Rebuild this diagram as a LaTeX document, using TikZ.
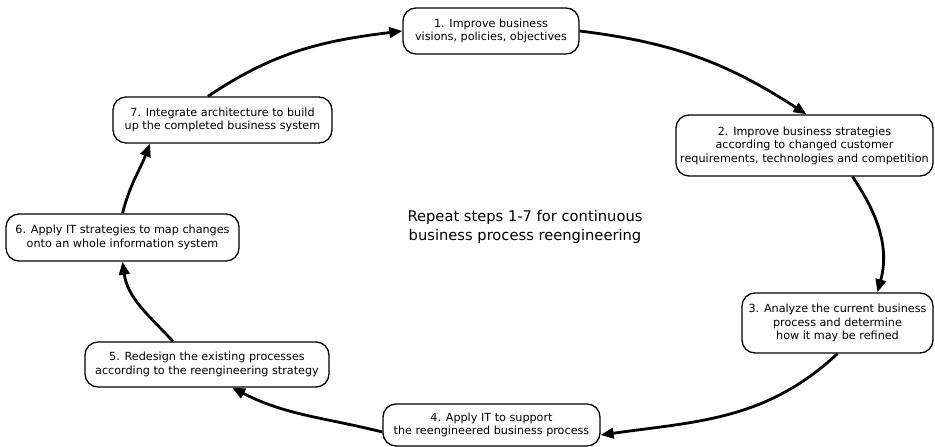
\documentclass[tikz,border=0pt]{standalone}
\usepackage{fontspec}
\setmainfont{DejaVu Sans}
\usetikzlibrary{arrows.meta}
\begin{document}
\begin{tikzpicture}[x=1pt,y=1pt,
  stepbox/.style={draw, line width=1.3pt, rounded corners=13pt, align=center,
    inner sep=0pt, font=\fontsize{11.2}{13.5}\selectfont},
  flow/.style={line width=2.8pt, -{Triangle[length=13pt,width=10.5pt]}}]
\useasboundingbox (0,0) rectangle (935,447);

% the seven steps of the cycle
\node[stepbox, minimum width=176, minimum height=46] (n1) at (491,416)
  {1. Improve business\\visions, policies, objectives};
\node[stepbox, minimum width=257, minimum height=61] (n2) at (804.5,301.5)
  {2. Improve business strategies\\according to changed customer\\requirements, technologies and competition};
\node[stepbox, minimum width=191, minimum height=60] (n3) at (837.5,124)
  {3. Analyze the current business\\process and determine\\how it may be refined};
\node[stepbox, minimum width=217, minimum height=42] (n4) at (491.5,22)
  {4. Apply IT to support\\the reengineered business process};
\node[stepbox, minimum width=244, minimum height=45] (n5) at (207,82.5)
  {5. Redesign the existing processes\\according to the reengineering strategy};
\node[stepbox, minimum width=233, minimum height=47] (n6) at (122.5,209.5)
  {6. Apply IT strategies to map changes\\onto an whole information system};
\node[stepbox, minimum width=219, minimum height=46] (n7) at (222.5,327)
  {7. Integrate architecture to build\\up the completed business system};

% caption in the middle of the loop
\node[align=center, font=\fontsize{14.7}{19}\selectfont] (note) at (525,220)
  {Repeat steps 1-7 for continuous\\business process reengineering};

% curved arrows running clockwise round the loop
\draw[flow] (n1.east) to[out=-7, in=147] ([xshift=2pt]n2.north);
\draw[flow] ([xshift=48pt]n2.south) to[out=-56, in=75] ([xshift=40pt]n3.north);
\draw[flow] (n3.south) to[out=-137, in=8] ([yshift=-10pt]n4.east);
\draw[flow] ([yshift=-7pt]n4.west) to[out=166, in=-27] ([xshift=25pt]n5.south);
\draw[flow] ([xshift=-34pt]n5.north) to[out=133, in=-82] (n6.south);
\draw[flow] (n6.north) to[out=76, in=-111] ([xshift=-72.5pt]n7.south);
\draw[flow] ([xshift=-14.5pt]n7.north) to[out=34, in=-173] (n1.west);
\end{tikzpicture}
\end{document}
